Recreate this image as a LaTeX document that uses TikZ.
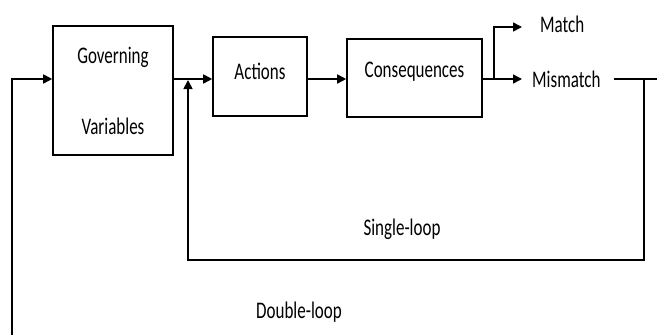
\documentclass[tikz,border=0pt]{standalone}
\usepackage{fontspec}
\usepackage{graphicx}
\setmainfont{Carlito}
\usetikzlibrary{arrows.meta,calc}
% tall, narrow lettering
\newcommand{\tall}[1]{\scalebox{1}[1.4]{#1}}
\tikzset{
  blk/.style={draw, line width=1.6pt, inner sep=0pt},
  lbl/.style={inner sep=0pt, font=\fontsize{17}{20}\selectfont},
  wire/.style={line width=1.6pt},
  arr/.style={wire, -{Triangle[length=9pt,width=9pt]}},
}
\begin{document}
\begin{tikzpicture}[x=1pt,y=-1pt]
\useasboundingbox (0,0) rectangle (657,335);

% process blocks
\node[blk, minimum width=120pt, minimum height=129pt] (gv) at (113,90.5) {};
\node[lbl] (gvt) at (113,57) {\tall{Governing}};
\node[lbl] (gvb) at (113,126) {\tall{Variables}};
\node[blk, minimum width=94pt, minimum height=79pt] (act) at (260,76.5) {};
\node[lbl] (actt) at (260,71) {\tall{Actions}};
\node[blk, minimum width=135pt, minimum height=78pt] (cons) at (414.5,78) {};
\node[lbl] (const) at (414.5,72) {\tall{Consequences}};

% outcome labels
\node[lbl, anchor=west] (match) at (540,24) {\tall{Match}};
\node[lbl, anchor=west] (mism) at (532,79) {\tall{Mismatch}};
\node[lbl] (sl) at (402,229) {\tall{Single-loop}};
\node[lbl] (dl) at (299,312) {\tall{Double-loop}};

% junction points on the signal line (y = 79)
\coordinate (mainy) at (0,79);
\coordinate (split) at (494,79);
\coordinate (matchto) at (522,27);
\coordinate (mismto) at (522,79);
\coordinate (redge) at (656.5,79);
\coordinate (tee) at (644,79);
\coordinate (slbot) at (644,260);
\coordinate (slin) at (188,80);
\coordinate (dlbot) at (12,336);

% forward path
\draw[arr] (dlbot) |- (gv.west |- mainy);
\draw[arr] (gv.east |- mainy) -- (act.west |- mainy);
\draw[arr] (act.east |- mainy) -- (cons.west |- mainy);
\draw[wire] (cons.east |- mainy) -- (split);
\draw[arr] (split) |- (matchto);
\draw[arr] (split) -- (mismto);

% single-loop feedback
\draw[wire] ($(mism.east)+(13,0)$) -- (redge);
\draw[arr] (tee) -- (slbot) -| (slin);
\end{tikzpicture}
\end{document}
